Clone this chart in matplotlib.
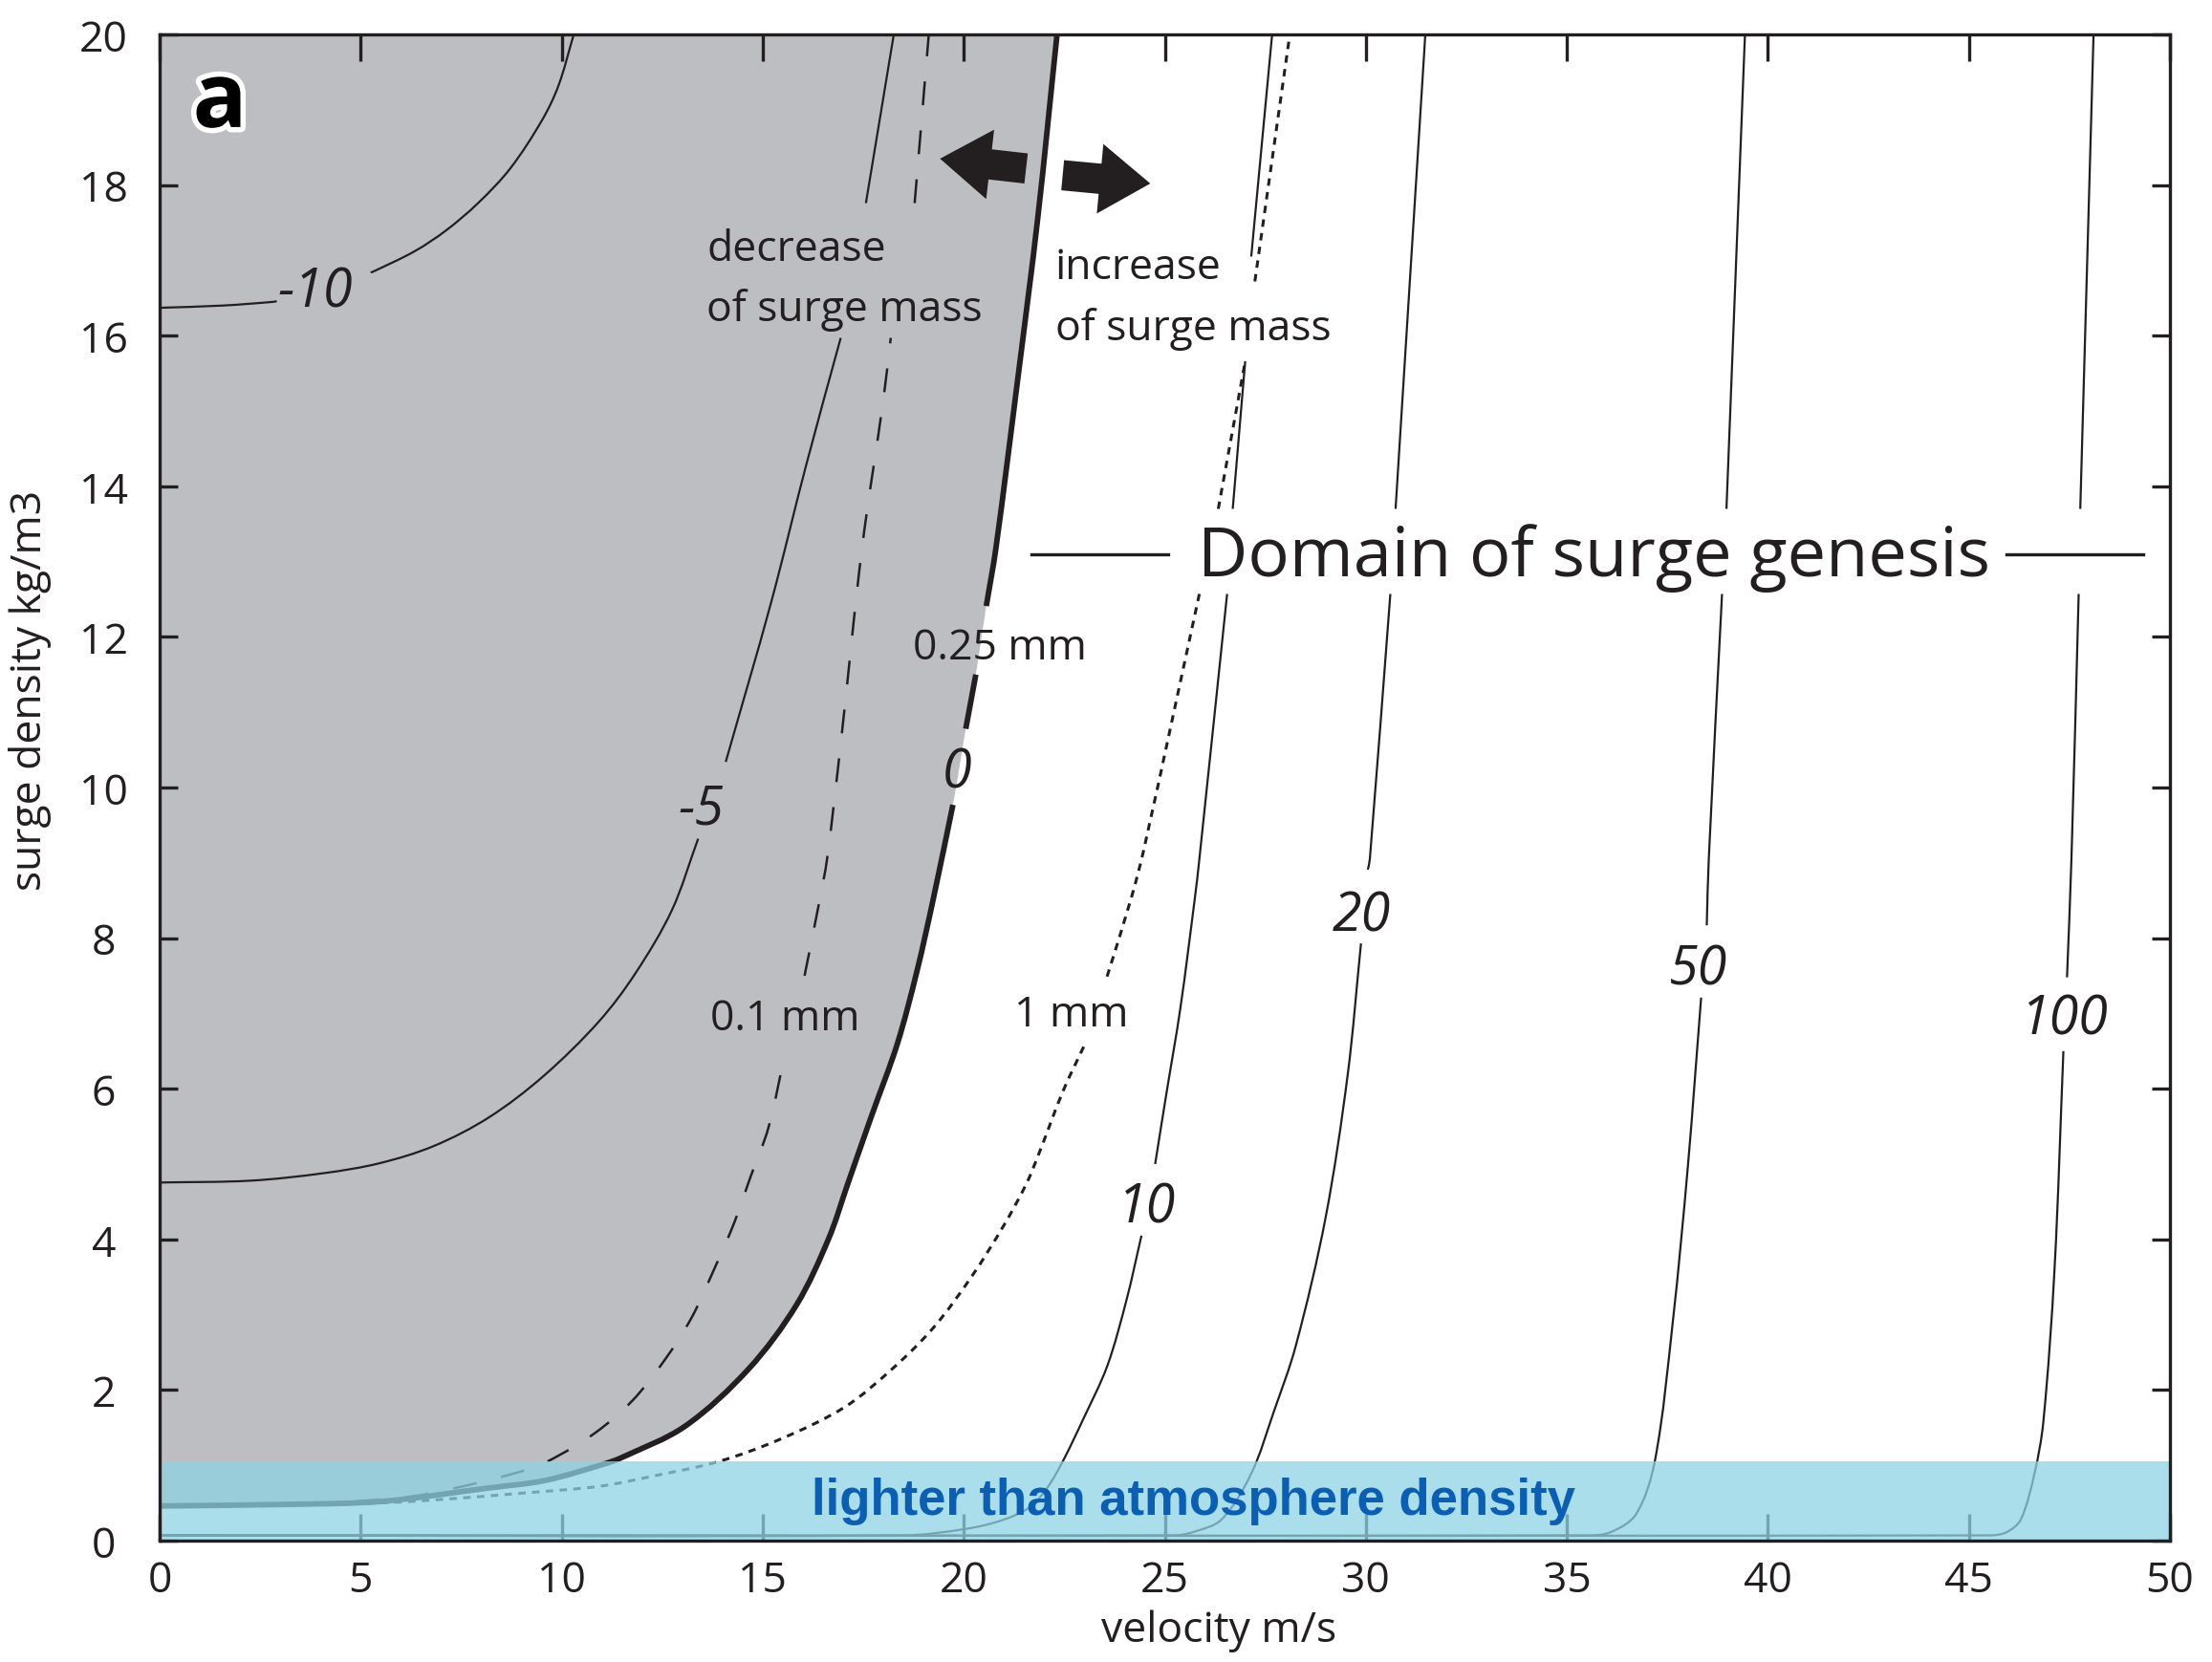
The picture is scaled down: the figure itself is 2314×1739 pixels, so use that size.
import numpy as np
import matplotlib.pyplot as plt
import matplotlib.patheffects as pe
from matplotlib.path import Path
from matplotlib.patches import PathPatch

plt.rcParams['font.family'] = ['Open Sans', 'DejaVu Sans']
plt.rcParams['lines.scale_dashes'] = False

INK = '#231f20'

# contours: velocity (m/s), surge density (kg/m3)
m10_v   = [0, 1.58, 2.85, 5.31, 6.34, 7.13, 7.92, 8.72, 9.51, 9.92, 10.3]
m10_rho = [16.37, 16.40, 16.45, 16.85, 17.12, 17.40, 17.76, 18.22, 18.86, 19.32, 20]

m5_v   = [0, 2.27, 4.09, 5.46, 6.82, 8.19, 9.55, 10.92, 11.83, 12.74, 13.38,
          14.08, 15.21, 16.08, 16.95, 17.56, 18.26]
m5_rho = [4.755, 4.78, 4.88, 5.01, 5.24, 5.62, 6.17, 6.89, 7.53, 8.37, 9.30,
          10.34, 12.46, 14.28, 15.99, 17.74, 20]

fine_v   = [0, 3, 6.0, 7.2, 9.0, 9.68, 10.83, 11.76, 12.55, 13.23, 13.78, 14.29, 14.71,
            15.14, 15.56, 16.04, 16.41, 16.6, 16.95, 17.47, 18.0, 18.18, 18.78, 19.13]
fine_rho = [0.46, 0.47, 0.57, 0.68, 0.92, 1.06, 1.43, 1.86, 2.39, 2.96, 3.59, 4.22, 4.85,
            5.48, 6.48, 7.50, 8.49, 9.05, 10.63, 13.18, 15.15, 15.95, 17.77, 20]

zero_v   = [0, 3, 5.5, 8.2, 9.6, 11.07, 11.48, 13.07, 14.65, 15.84, 16.64, 17.11, 17.70,
            18.35, 18.84, 19.25, 19.73, 20.05, 20.30, 20.56, 20.80, 21.33, 21.84, 22.32]
zero_rho = [0.46, 0.48, 0.52, 0.70, 0.80, 1.02, 1.10, 1.52, 2.28, 3.13, 4.01, 4.73, 5.63,
            6.60, 7.57, 8.54, 9.77, 10.78, 11.50, 12.41, 13.18, 15.37, 17.56, 20]

coarse_v   = [0, 3, 5.5, 7.1, 9.0, 10.92, 12.3, 13.9, 15.45, 17.03, 18.22, 19.25, 20.2,
              20.99, 21.55, 21.87, 22.47, 23.02, 23.57, 24.17, 24.48, 25.86, 26.33, 27.0,
              27.24, 28.11]
coarse_rho = [0.46, 0.47, 0.50, 0.55, 0.63, 0.72, 0.86, 1.05, 1.35, 1.77, 2.28, 2.83, 3.51,
              4.18, 4.73, 5.14, 5.97, 6.60, 7.50, 8.54, 9.18, 12.57, 13.70, 15.66,
              16.72, 20]

p10_v   = [0, 18.5, 20.1, 21.0, 21.66, 22.1, 22.47, 22.96, 23.57, 24.05, 24.42, 24.76,
           25.02, 25.39, 25.75, 25.86, 26.55, 26.69, 27.0, 27.15, 27.67]
p10_rho = [0.07, 0.07, 0.16, 0.28, 0.45, 0.72, 1.06, 1.60, 2.32, 3.20, 4.05, 5.0,
           5.87, 7.08, 8.54, 9.05, 12.57, 13.70, 15.66, 17.05, 20]

p20_v   = [0, 25.2, 25.68, 26.41, 27.15, 27.71, 28.26, 29.0, 29.55, 29.88, 30.05, 30.10,
           30.61, 30.74, 31.48]
p20_rho = [0.07, 0.07, 0.11, 0.28, 0.89, 1.71, 2.59, 4.29, 6.19, 7.93, 8.91, 9.05,
           12.57, 13.70, 20]

p50_v   = [0, 35.5, 36.08, 36.72, 37.19, 37.64, 38.01, 38.34, 38.48, 38.53, 38.86, 38.97, 39.43]
p50_rho = [0.07, 0.07, 0.11, 0.35, 1.06, 2.93, 4.97, 7.21, 8.17, 9.05, 12.57, 13.70, 20]

p100_v   = [0, 45.5, 45.93, 46.29, 46.63, 46.85, 47.13, 47.35, 47.44, 47.55, 47.73, 47.77, 48.1]
p100_rho = [0.07, 0.07, 0.11, 0.28, 0.89, 1.57, 3.61, 6.50, 7.48, 9.05, 12.57, 13.70, 20]

atmosphere_rho = 1.05

# label gaps (density ranges where a line is interrupted by text)
gap_domain = (12.57, 13.70)
gap_decrease = (15.97, 17.76)

# pixels per data unit, so the curve smoothing works in screen proportions
PX = np.array([42.06, 78.8])


def cut(v, rho, gaps):
    v = np.asarray(v, float)
    rho = np.asarray(rho, float)
    pieces = []
    lo = None
    for g0, g1 in sorted(gaps) + [(None, None)]:
        keep = np.ones(len(rho), bool)
        if lo is not None:
            keep &= rho > lo
        if g0 is not None:
            keep &= rho < g0
        vv, rr = list(v[keep]), list(rho[keep])
        if lo is not None:
            vv.insert(0, np.interp(lo, rho, v)); rr.insert(0, lo)
        if g0 is not None:
            vv.append(np.interp(g0, rho, v)); rr.append(g0)
        pieces.append((vv, rr))
        lo = g1
    return pieces


def smooth(v, rho):
    # smooth bezier drawn through the read points
    p = np.column_stack([v, rho]) * PX
    d = np.hypot(*np.diff(p, axis=0).T)
    t = np.concatenate([[0], np.cumsum(d)])
    m = np.empty_like(p)
    m[0] = (p[1] - p[0]) / d[0]
    m[-1] = (p[-1] - p[-2]) / d[-1]
    if len(p) > 2:
        m[1:-1] = (p[2:] - p[:-2]) / (t[2:] - t[:-2])[:, None]
    verts, codes = [p[0]], [Path.MOVETO]
    for i in range(len(p) - 1):
        verts += [p[i] + m[i] * d[i] / 3, p[i + 1] - m[i + 1] * d[i] / 3, p[i + 1]]
        codes += [Path.CURVE4] * 3
    return np.array(verts) / PX, codes


def draw(ax, v, rho, gaps, **kw):
    for vv, rr in cut(v, rho, gaps):
        verts, codes = smooth(vv, rr)
        ax.add_patch(PathPatch(Path(verts, codes), fill=False, edgecolor=INK,
                               capstyle='butt', joinstyle='round', zorder=2, **kw))


fig = plt.figure(figsize=(11.57, 8.70), dpi=200)
ax = fig.add_axes([167/2314, 1-1613/1740, (2270-167)/2314, (1613-37)/1740])

# grey region: where the surge loses mass (left of the 0 contour)
verts, codes = smooth(zero_v, zero_rho)
verts = np.vstack([verts, [[0, 20], [0, zero_rho[0]], [0, zero_rho[0]]]])
codes = codes + [Path.LINETO, Path.LINETO, Path.CLOSEPOLY]
ax.add_patch(PathPatch(Path(verts, codes), facecolor='#bdbec2', lw=0, zorder=1))

draw(ax, m10_v, m10_rho, [(16.46, 16.84)], lw=0.8)
draw(ax, m5_v, m5_rho, [(9.32, 10.34), gap_decrease], lw=0.8)
draw(ax, p10_v, p10_rho, [(4.05, 5.0), gap_domain, (15.66, 17.05)], lw=0.8)
draw(ax, p20_v, p20_rho, [(7.93, 8.91), gap_domain], lw=0.8)
draw(ax, p50_v, p50_rho, [(7.21, 8.17), gap_domain], lw=0.8)
draw(ax, p100_v, p100_rho, [(6.50, 7.48), gap_domain], lw=0.8)
draw(ax, zero_v, zero_rho, [(9.77, 10.78), (11.50, 12.41)], lw=2.1)
draw(ax, fine_v, fine_rho, [(6.49, 7.50), gap_decrease], lw=0.9, linestyle=(0, (9, 9.5)))
draw(ax, coarse_v, coarse_rho, [(6.60, 7.49), gap_domain, (15.66, 16.72)], lw=1.1,
     linestyle=(0, (2.8, 2.4)))

ax.axhspan(0, atmosphere_rho, color='#8ed3e3', alpha=0.75, lw=0, zorder=2.4)
ax.text(25.72, 0.35, 'lighter than atmosphere density', ha='center', va='baseline',
        size=19, weight='bold', color='#0a5fb4', family='Liberation Sans', zorder=4)

# contour labels
for x, y, s in [(3.88, 16.66, '-10'), (13.47, 9.8, '-5'), (19.84, 10.28, '0'),
                (24.54, 4.5, '10'), (29.89, 8.38, '20'), (38.28, 7.66, '50'),
                (47.37, 7.0, '100')]:
    ax.text(x, y, s, ha='center', va='center_baseline', size=20, style='italic',
            color=INK, zorder=4)
for x, y, s in [(20.89, 11.93, '0.25 mm'), (15.55, 7.0, '0.1 mm'), (22.68, 7.05, '1 mm')]:
    ax.text(x, y, s, ha='center', va='center_baseline', size=16, color=INK, zorder=4)

for y, s in [(17.01, 'decrease'), (16.21, 'of surge mass')]:
    ax.text(13.61, y, s, ha='left', va='baseline', size=16, color=INK, zorder=4)
for y, s in [(16.76, 'increase'), (15.95, 'of surge mass')]:
    ax.text(22.27, y, s, ha='left', va='baseline', size=16, color=INK, zorder=4)

ax.text(35.68, 12.82, 'Domain of surge genesis', ha='center', va='baseline', size=26,
        color=INK, zorder=4)
ax.plot([21.68, 25.09], [13.1, 13.1], color=INK, lw=1.2, zorder=4)
ax.plot([45.93, 49.33], [13.1, 13.1], color=INK, lw=1.2, zorder=4)

arrow = 'simple,head_length=19,head_width=26.3,tail_width=11.4'
ax.annotate('', xy=(19.41, 18.35), xytext=(21.55, 18.22),
            arrowprops=dict(arrowstyle=arrow, fc=INK, ec='none', lw=0,
                            shrinkA=0, shrinkB=0, mutation_scale=1), zorder=4)
ax.annotate('', xy=(24.64, 18.02), xytext=(22.46, 18.13),
            arrowprops=dict(arrowstyle=arrow, fc=INK, ec='none', lw=0,
                            shrinkA=0, shrinkB=0, mutation_scale=1), zorder=4)

ax.text(1.50, 18.77, 'a', ha='center', va='baseline', size=34, weight='bold', color='black',
        zorder=4, path_effects=[pe.withStroke(linewidth=4, foreground='white')])

ax.set_xlim(0, 50)
ax.set_ylim(0, 20)
ax.set_xticks(np.arange(0, 51, 5))
ax.set_yticks(np.arange(0, 21, 2))
ax.tick_params(axis='x', direction='in', length=10, width=1.2, color=INK, labelsize=16,
               labelcolor=INK, pad=7, top=True)
ax.tick_params(axis='y', direction='in', length=7, width=1.2, color=INK, labelsize=16,
               labelcolor=INK, pad=21, right=True)
for lab in ax.get_yticklabels():
    lab.set_ha('center')
for sp in ax.spines.values():
    sp.set_linewidth(1.2)
    sp.set_color(INK)

fig.text(1275/2314, 1-1707/1740, 'velocity m/s', ha='center', va='center', size=16, color=INK)
fig.text(32/2314, 1-722/1740, 'surge density kg/m3', ha='center', va='center', size=16,
         rotation=90, color=INK)

fig.savefig('out.png', dpi=200)
